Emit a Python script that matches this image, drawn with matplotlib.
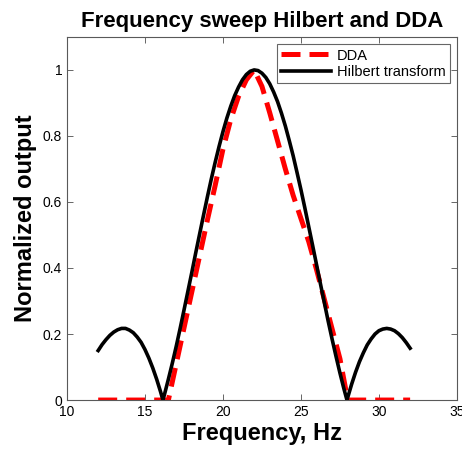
import matplotlib.pyplot as plt

# Hilbert transform response
hil_freq = [12.0, 12.25, 12.5, 12.75, 13.0, 13.25, 13.5, 13.75, 14.0, 14.25, 14.5,
            14.75, 15.0, 15.25, 15.5, 15.75, 16.0, 16.15, 16.25, 16.5, 16.75, 17.0,
            17.25, 17.5, 17.75, 18.0, 18.25, 18.5, 18.75, 19.0, 19.25, 19.5, 19.75,
            20.0, 20.25, 20.5, 20.75, 21.0, 21.25, 21.5, 21.75, 22.0, 22.25, 22.5,
            22.75, 23.0, 23.25, 23.5, 23.75, 24.0, 24.25, 24.5, 24.75, 25.0, 25.25,
            25.5, 25.75, 26.0, 26.25, 26.5, 26.75, 27.0, 27.25, 27.5, 27.75, 27.95,
            28.0, 28.25, 28.5, 28.75, 29.0, 29.25, 29.5, 29.75, 30.0, 30.25, 30.5,
            30.75, 31.0, 31.25, 31.5, 31.75, 32.0]
hil_out = [0.150, 0.168, 0.183, 0.196, 0.206, 0.213, 0.217, 0.217, 0.212, 0.204, 0.191,
           0.175, 0.153, 0.127, 0.097, 0.063, 0.025, 0.0, 0.017, 0.063, 0.111, 0.162,
           0.216, 0.272, 0.329, 0.386, 0.445, 0.502, 0.559, 0.615, 0.669, 0.720, 0.768,
           0.813, 0.854, 0.890, 0.922, 0.948, 0.970, 0.986, 0.996, 1.0, 0.998, 0.990,
           0.977, 0.958, 0.933, 0.904, 0.869, 0.830, 0.786, 0.740, 0.689, 0.637, 0.582,
           0.525, 0.468, 0.410, 0.352, 0.295, 0.238, 0.184, 0.132, 0.082, 0.035, 0.0,
           0.008, 0.048, 0.084, 0.116, 0.143, 0.167, 0.185, 0.200, 0.210, 0.215, 0.217,
           0.215, 0.210, 0.201, 0.189, 0.174, 0.157]

# DDA response
dda_freq = [12.0, 16.5, 17.0, 17.5, 18.0, 18.5, 19.0, 19.5, 20.0, 20.5, 21.0, 21.5,
            22.0, 22.5, 23.0, 23.5, 24.0, 24.5, 25.0, 25.5, 26.0, 26.5, 27.0, 27.5,
            28.0, 32.0]
dda_out = [0.0, 0.0, 0.109, 0.218, 0.327, 0.436, 0.545, 0.65, 0.76, 0.85, 0.92, 0.97,
           1.0, 0.95, 0.87, 0.785, 0.70, 0.62, 0.55, 0.48, 0.395, 0.305, 0.215, 0.125,
           0.0, 0.0]

xticks = [10, 15, 20, 25, 30, 35]
yticks = [0, 0.2, 0.4, 0.6, 0.8, 1.0]
ytick_labels = ["0", "0.2", "0.4", "0.6", "0.8", "1"]

plt.rcParams["font.family"] = ["Liberation Sans", "DejaVu Sans"]

fig = plt.figure(figsize=(4.62, 4.5), dpi=100)
ax = fig.add_axes([0.145, 0.111, 0.844, 0.807])

ax.plot(dda_freq, dda_out, color="red", linestyle="--", linewidth=3.6,
        dashes=(3.8, 1.8), label="DDA")
ax.plot(hil_freq, hil_out, color="black", linewidth=2.6, label="Hilbert transform")

ax.set_xlim(10, 35)
ax.set_ylim(0, 1.1)
ax.set_xticks(xticks)
ax.set_yticks(yticks)
ax.set_yticklabels(ytick_labels)
ax.tick_params(direction="in", length=4, width=0.6, labelsize=10,
               top=True, right=True, colors="0.3", labelcolor="black")
for s in ax.spines.values():
    s.set_color("0.35")
    s.set_linewidth(0.8)

ax.set_title("Frequency sweep Hilbert and DDA", fontsize=16, fontweight="bold", pad=7)
ax.set_xlabel("Frequency, Hz", fontsize=17, fontweight="bold", labelpad=2)
ax.set_ylabel("Normalized output", fontsize=17, fontweight="bold", labelpad=4)

leg = ax.legend(loc="upper right", fontsize=10.5, handlelength=3.4, fancybox=False,
                framealpha=1, borderaxespad=0.5, borderpad=0.3, labelspacing=0.15,
                handletextpad=0.4)
leg.get_frame().set_edgecolor("0.4")
leg.get_frame().set_linewidth(0.8)

fig.savefig("out.png", dpi=100)
